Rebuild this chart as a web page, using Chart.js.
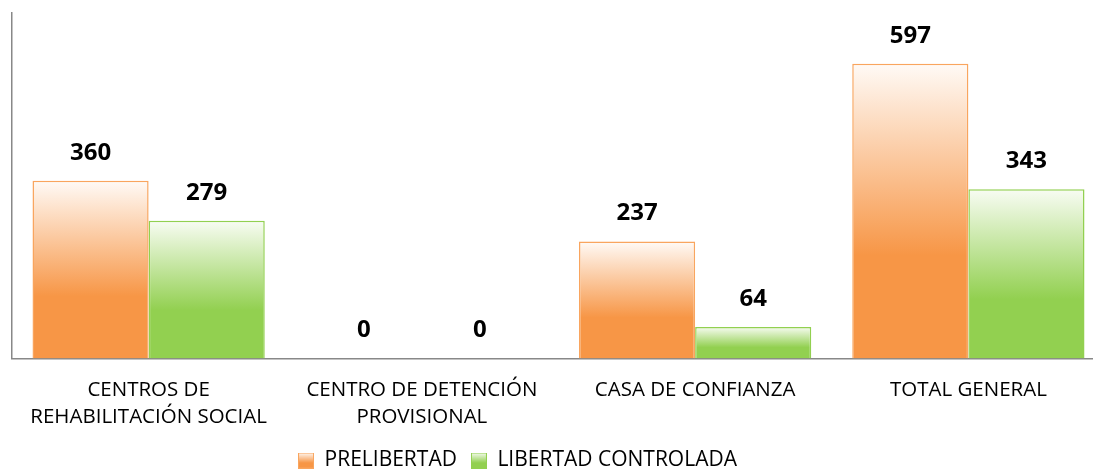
<!DOCTYPE html>
<html>
<head>
<meta charset="utf-8">
<script src="https://cdn.jsdelivr.net/npm/chart.js@4/dist/chart.umd.min.js"></script>
<style>
  html, body { margin: 0; padding: 0; background: #fff; overflow: hidden; }
</style>
</head>
<body>
<canvas id="chart" width="1105" height="481"></canvas>
<script>
const categories = [
  ['CENTROS DE', 'REHABILITACIÓN SOCIAL'],
  ['CENTRO DE DETENCIÓN', 'PROVISIONAL'],
  'CASA DE CONFIANZA',
  'TOTAL GENERAL'
];
const seriesNames = ['PRELIBERTAD', 'LIBERTAD CONTROLADA'];
const prelibertad = [360, 0, 237, 597];
const libertadControlada = [279, 0, 64, 343];

const FONT = '"Open Sans", "Liberation Sans", sans-serif';
const colors = ['#F79646', '#92D050'];
const borders = ['#F9A55E', '#92D050'];
const tops = ['#FFFAF6', '#F8FCF3'];

// vertical gradient per bar: pale at the top, full colour from ~65% down
function barFill(i) {
  return (ctx) => {
    const chart = ctx.chart;
    if (ctx.type !== 'data' || !chart.chartArea) return colors[i];
    const y = chart.scales.y;
    const top = y.getPixelForValue(ctx.parsed.y);
    const base = y.getPixelForValue(0);
    if (base - top < 1) return colors[i];
    const g = chart.ctx.createLinearGradient(0, top, 0, base);
    g.addColorStop(0, tops[i]);
    g.addColorStop(0.65, colors[i]);
    g.addColorStop(1, colors[i]);
    return g;
  };
}

function legendSwatch(i) {
  const c = document.createElement('canvas');
  c.width = 16; c.height = 16;
  const x = c.getContext('2d');
  const g = x.createLinearGradient(0, 0, 0, 16);
  g.addColorStop(0, tops[i]);
  g.addColorStop(0.65, colors[i]);
  g.addColorStop(1, colors[i]);
  x.fillStyle = g;
  x.fillRect(0, 0, 16, 16);
  x.strokeStyle = borders[i];
  x.lineWidth = 1;
  x.strokeRect(0.5, 0.5, 15, 15);
  return c;
}

const valueLabels = {
  id: 'valueLabels',
  afterDatasetsDraw(chart) {
    const ctx = chart.ctx;
    ctx.save();
    ctx.font = 'bold 24px ' + FONT;
    ctx.fillStyle = '#000';
    ctx.textAlign = 'center';
    ctx.textBaseline = 'middle';
    chart.data.datasets.forEach((ds, di) => {
      chart.getDatasetMeta(di).data.forEach((bar, j) => {
        ctx.fillText(String(ds.data[j]), bar.x, bar.y - 28);
      });
    });
    ctx.restore();
  }
};

// the legend sits a bit left of centre in the original
const shiftLegend = {
  id: 'shiftLegend',
  afterLayout(chart) {
    if (chart.legend) {
      chart.legend.left -= 41;
      chart.legend.right -= 41;
    }
  }
};

const datasets = [prelibertad, libertadControlada].map((vals, i) => ({
  label: seriesNames[i],
  data: vals,
  backgroundColor: barFill(i),
  borderColor: borders[i],
  borderWidth: (ctx) => (ctx.raw ? 1.5 : 0),
  borderSkipped: 'bottom'
}));

new Chart(document.getElementById('chart'), {
  type: 'bar',
  data: { labels: categories, datasets },
  plugins: [valueLabels, shiftLegend],
  options: {
    responsive: false,
    animation: false,
    categoryPercentage: 0.85,
    barPercentage: 1,
    layout: { padding: { left: 12, top: 13, right: 0, bottom: 0 } },
    plugins: {
      tooltip: { enabled: false },
      legend: {
        position: 'bottom',
        labels: {
          color: '#000',
          font: { family: FONT, size: 21 },
          usePointStyle: true,
          boxWidth: 16,
          boxHeight: 16,
          padding: 14,
          generateLabels: (chart) => chart.data.datasets.map((ds, i) => ({
            text: ds.label,
            pointStyle: legendSwatch(i),
            datasetIndex: i,
            fontColor: '#000'
          }))
        }
      }
    },
    scales: {
      x: {
        grid: { display: false },
        border: { display: true, color: '#888888', width: 1.5 },
        ticks: {
          color: '#000',
          font: { family: FONT, size: 20.5, lineHeight: 1.33 },
          padding: 10,
          maxRotation: 0,
          autoSkip: false
        },
        afterFit: (s) => { s.height -= 5; }
      },
      y: {
        min: 0,
        max: 700,
        grid: { display: false },
        border: { display: true, color: '#888888', width: 1.5 },
        ticks: { display: false },
        afterFit: (s) => { s.width = 0; }
      }
    }
  }
});
</script>
</body>
</html>
